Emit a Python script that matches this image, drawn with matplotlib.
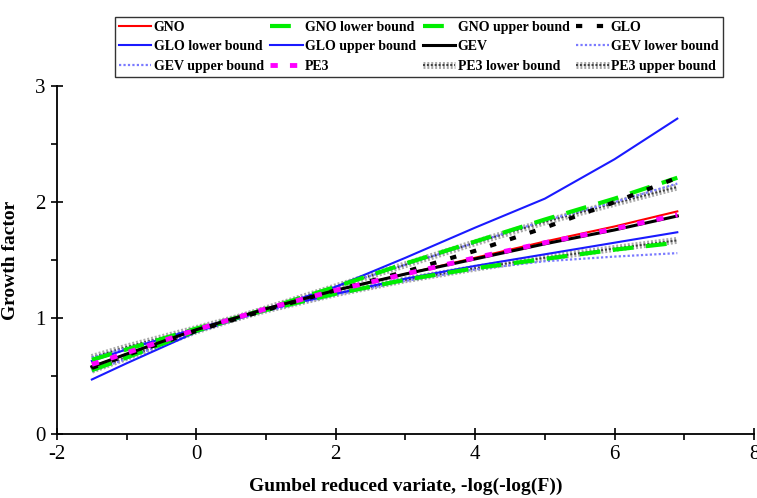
import matplotlib
matplotlib.use('Agg')
import matplotlib.pyplot as plt
import matplotlib.ticker as ticker
import matplotlib.patheffects as pe

plt.rcParams['font.family'] = ['Liberation Serif', 'DejaVu Serif']
plt.rcParams['axes.unicode_minus'] = False

# Gumbel reduced variate and growth factors per distribution
x = [-1.5, -1, 0, 1, 2, 3, 4, 5, 6, 6.9]
gno = [0.58, 0.69, 0.90, 1.08, 1.24, 1.38, 1.52, 1.66, 1.79, 1.92]
gno_lower = [0.64, 0.73, 0.91, 1.07, 1.21, 1.33, 1.43, 1.51, 1.59, 1.65]
gno_upper = [0.55, 0.66, 0.89, 1.08, 1.27, 1.47, 1.66, 1.85, 2.03, 2.21]
glo = [0.57, 0.68, 0.89, 1.07, 1.24, 1.40, 1.58, 1.78, 2.00, 2.21]
glo_lower = [0.63, 0.73, 0.91, 1.07, 1.21, 1.34, 1.45, 1.55, 1.65, 1.74]
glo_upper = [0.47, 0.61, 0.88, 1.07, 1.27, 1.52, 1.78, 2.03, 2.37, 2.72]
gev = [0.58, 0.69, 0.90, 1.08, 1.24, 1.38, 1.51, 1.64, 1.76, 1.88]
gev_lower = [0.66, 0.74, 0.91, 1.06, 1.20, 1.32, 1.42, 1.49, 1.53, 1.56]
gev_upper = [0.54, 0.65, 0.89, 1.08, 1.27, 1.46, 1.65, 1.84, 2.00, 2.16]
pe3 = [0.60, 0.70, 0.90, 1.08, 1.24, 1.38, 1.52, 1.65, 1.77, 1.89]
pe3_lower = [0.66, 0.75, 0.91, 1.07, 1.21, 1.33, 1.43, 1.52, 1.60, 1.67]
pe3_upper = [0.55, 0.66, 0.89, 1.08, 1.27, 1.46, 1.65, 1.83, 1.99, 2.13]

fig = plt.figure(figsize=(7.57, 4.98), dpi=100)
ax = fig.add_axes([0.0753, 0.1285, 0.9207, 0.6985])

gray_fx = [pe.Stroke(linewidth=5, foreground='#a8a8a8'), pe.Normal()]

series = [
    ('GNO', gno, dict(color='red', lw=1.5, ls='-')),
    ('GNO lower bound', gno_lower, dict(color='#00ee00', lw=3, ls=(0, (5, 3)))),
    ('GNO upper bound', gno_upper, dict(color='#00ee00', lw=3, ls=(0, (5, 3)))),
    ('GLO', glo, dict(color='black', lw=3, ls=(0, (1.5, 3.5)))),
    ('GLO lower bound', glo_lower, dict(color='#1a1aff', lw=1.5, ls='-')),
    ('GLO upper bound', glo_upper, dict(color='#1a1aff', lw=1.5, ls='-')),
    ('GEV', gev, dict(color='black', lw=2.2, ls='-')),
    ('GEV lower bound', gev_lower, dict(color='#7a7aff', lw=1.6, ls=(0, (1, 1)))),
    ('GEV upper bound', gev_upper, dict(color='#7a7aff', lw=1.6, ls=(0, (1, 1)))),
    ('PE3', pe3, dict(color='magenta', lw=3.5, ls=(0, (1.5, 2.5)))),
    ('PE3 lower bound', pe3_lower, dict(color='#404040', lw=1.4, ls=(0, (1, 1)), path_effects=gray_fx)),
    ('PE3 upper bound', pe3_upper, dict(color='#404040', lw=1.4, ls=(0, (1, 1)), path_effects=gray_fx)),
]

# draw bounds first, central curves on top
order = [10, 11, 7, 8, 4, 5, 1, 2, 3, 0, 6, 9]
lines = {}
for k in order:
    name, y, st = series[k]
    lines[k], = ax.plot(x, y, label=name, **st)

ax.set_xlim(-2, 8)
ax.set_ylim(0, 3)
ax.xaxis.set_major_locator(ticker.MultipleLocator(2))
ax.xaxis.set_minor_locator(ticker.MultipleLocator(1))
ax.yaxis.set_major_locator(ticker.MultipleLocator(1))
ax.yaxis.set_minor_locator(ticker.MultipleLocator(0.5))
ax.tick_params(which='major', direction='inout', length=9, width=1.2, labelsize=15)
ax.tick_params(which='minor', direction='out', length=4, width=1.2)
ax.spines['top'].set_visible(False)
ax.spines['right'].set_visible(False)
for s in ['left', 'bottom']:
    ax.spines[s].set_linewidth(1.3)

ax.set_xlabel('Gumbel reduced variate, -log(-log(F))', fontsize=14, fontweight='bold', labelpad=10)
ax.set_ylabel('Growth factor', fontsize=14, fontweight='bold', labelpad=12)

# legend laid out row by row in four columns
ncol = 4
nrow = 3
idx = [r * ncol + c for c in range(ncol) for r in range(nrow)]
handles = [lines[i] for i in idx]
labels = [series[i][0] for i in idx]
leg = fig.legend(handles, labels, ncol=ncol, loc='upper center', bbox_to_anchor=(0.553, 0.98),
                 prop={'weight': 'bold', 'size': 10}, frameon=True, fancybox=False,
                 edgecolor='black', handlelength=2.35, handletextpad=0.15, columnspacing=0.48,
                 labelspacing=0.45, borderpad=0.3)
leg.get_frame().set_linewidth(1.0)

fig.savefig('out.png', dpi=100)
